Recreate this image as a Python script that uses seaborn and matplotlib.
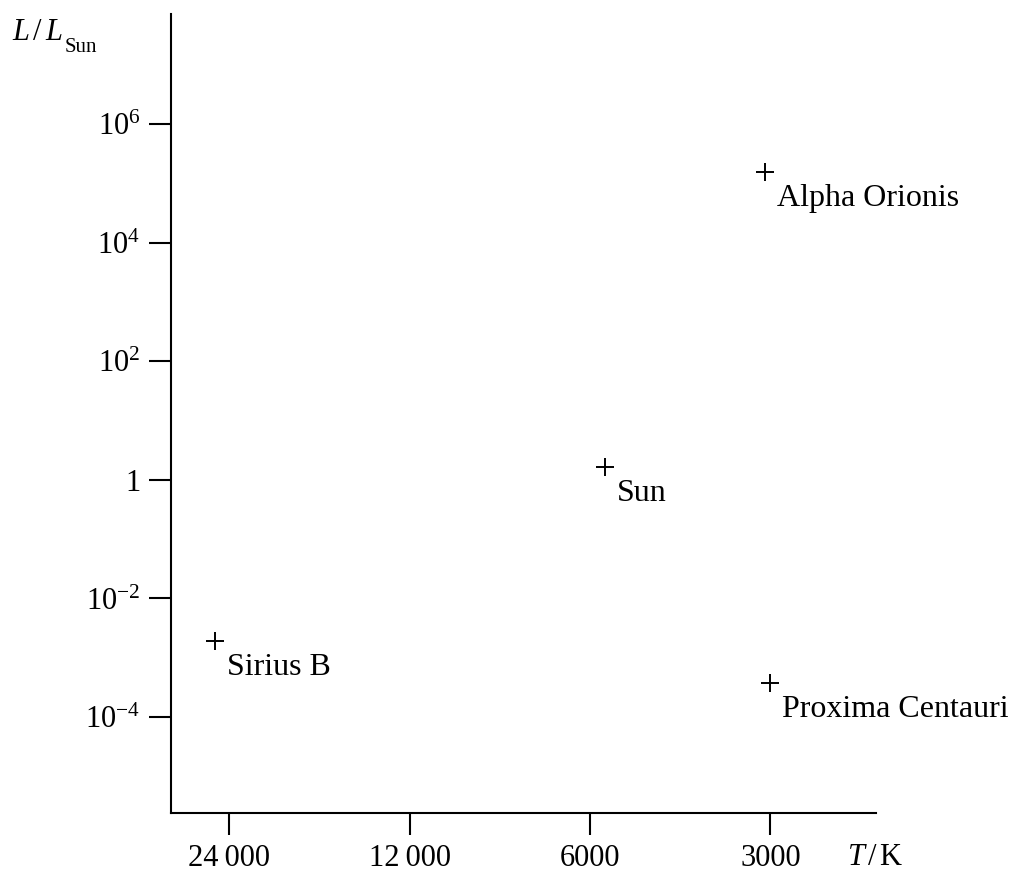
import numpy as np
import pandas as pd
import matplotlib
matplotlib.use('Agg')
import matplotlib.pyplot as plt
import seaborn as sns

# star data
stars = ['Alpha Orionis', 'Sun', 'Sirius B', 'Proxima Centauri']
temperature = [3060, 5670, 25300, 3000]
luminosity = [1.55e5, 1.66, 1.95e-3, 3.7e-4]

x_ticks = [24000, 12000, 6000, 3000]
x_tick_labels = ['24\u2009000', '12\u2009000', '6000', '3000']
y_ticks = [1e-4, 1e-2, 1, 1e2, 1e4, 1e6]
y_tick_labels = ['$10^{-4}$', '$10^{-2}$', '1', '$10^{2}$', '$10^{4}$', '$10^{6}$']

sns.set_theme(style='white')
plt.rcParams['font.family'] = ['Liberation Serif', 'DejaVu Serif']
plt.rcParams['mathtext.fontset'] = 'custom'
plt.rcParams['mathtext.rm'] = 'Liberation Serif'
plt.rcParams['mathtext.it'] = 'Liberation Serif:italic'
plt.rcParams['axes.unicode_minus'] = True

df = pd.DataFrame({'star': stars, 'T': temperature, 'L': luminosity})

fig = plt.figure(figsize=(10.12, 8.73), dpi=100)
ax = fig.add_axes([0.169, 0.0687, 0.6966, 0.9153])

sns.scatterplot(data=df, x='T', y='L', marker='+', s=150, color='black',
                linewidth=1.4, ax=ax, legend=False)

ax.set_xscale('log')
ax.set_yscale('log')
ax.set_xlim(30000, 2000)
ax.set_ylim(10 ** -5.62, 10 ** 7.86)

ax.set_xticks(x_ticks)
ax.set_xticklabels(x_tick_labels)
ax.set_yticks(y_ticks)
ax.set_yticklabels(y_tick_labels)
ax.xaxis.set_minor_locator(matplotlib.ticker.NullLocator())
ax.yaxis.set_minor_locator(matplotlib.ticker.NullLocator())
ax.tick_params(axis='both', which='major', direction='out', length=16, width=1.5,
               color='black', labelsize=22, labelcolor='black', pad=6,
               bottom=True, left=True)
ax.set_xlabel('')
ax.set_ylabel('')

for side in ['top', 'right']:
    ax.spines[side].set_visible(False)
for side in ['left', 'bottom']:
    ax.spines[side].set_color('black')
    ax.spines[side].set_linewidth(1.5)

for _, row in df.iterrows():
    ax.annotate(row['star'], (row['T'], row['L']), xytext=(12, -34),
                textcoords='offset pixels', ha='left', va='baseline',
                fontsize=23, color='black')

# axis titles: L / L_Sun at top left, T / K after the last x tick
fig.text(12 / 1012, 1 - 40 / 873, r'$L\,/\,L$', fontsize=22,
         ha='left', va='baseline', color='black')
fig.text(65 / 1012, 1 - 52 / 873, 'Sun', fontsize=15,
         ha='left', va='baseline', color='black')
fig.text(847 / 1012, 1 - 865 / 873, r'$T\,/\,\mathrm{K}$', fontsize=22,
         ha='left', va='baseline', color='black')

fig.savefig('out.png', dpi=100, facecolor='white')
